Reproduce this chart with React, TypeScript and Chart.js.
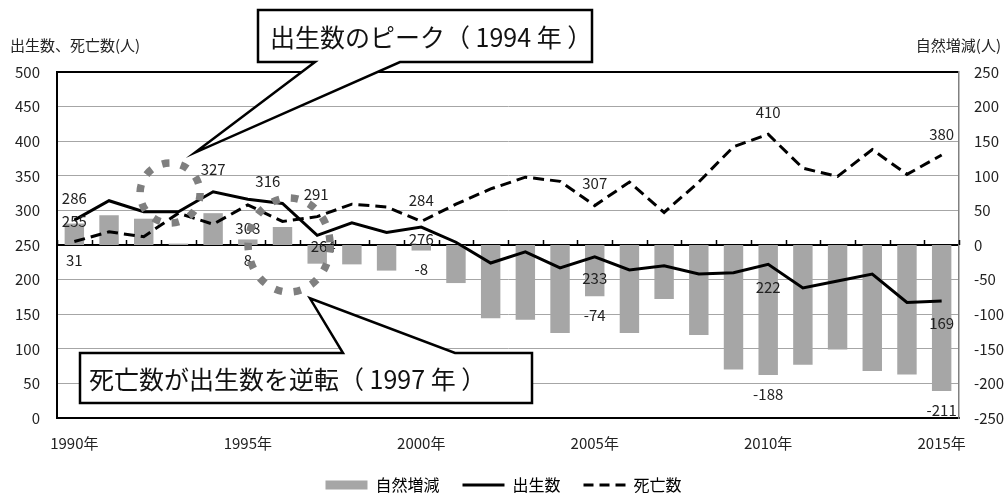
import React, { useEffect, useRef } from 'react';
import { Chart, registerables } from 'chart.js';

Chart.register(...registerables);

// ---- data ----
const YEARS = [1990, 1991, 1992, 1993, 1994, 1995, 1996, 1997, 1998, 1999, 2000, 2001, 2002, 2003, 2004, 2005, 2006, 2007, 2008, 2009, 2010, 2011, 2012, 2013, 2014, 2015];
const TICK_YEARS = [1990, 1995, 2000, 2005, 2010, 2015];
const BIRTHS = [286, 314, 298, 298, 327, 316, 310, 264, 282, 268, 276, 254, 224, 240, 217, 233, 214, 220, 208, 210, 222, 188, 198, 208, 167, 169];
const DEATHS = [255, 269, 262, 296, 280, 308, 284, 291, 309, 305, 284, 309, 331, 348, 342, 307, 341, 297, 341, 392, 410, 361, 349, 388, 352, 380];
const NATURAL = [31, 43, 38, 2, 46, 8, 26, -27, -28, -37, -8, -55, -106, -108, -127, -74, -127, -78, -130, -180, -188, -173, -151, -182, -187, -211];

const SERIES_NAMES = ['自然増減', '出生数', '死亡数'];
const LEFT_TITLE = '出生数、死亡数(人)';
const RIGHT_TITLE = '自然増減(人)';
const CALLOUT_PEAK = '出生数のピーク（ 1994 年 ）';
const CALLOUT_CROSS = '死亡数が出生数を逆転（ 1997 年 ）';

// which points carry a value label (index, pixel nudge)
const BIRTH_LABELS = [[0, 0, -22], [4, 0, -22], [5, 20, -18], [7, 6, 11], [10, 0, 12], [15, 0, 22], [20, 0, 23], [25, 0, 22]];
const DEATH_LABELS = [[0, 0, -20], [5, 0, 23], [7, -1, -22], [10, 0, -21], [15, 0, -22], [20, 0, -22], [25, 0, -21]];
const NATURAL_LABELS = [0, 5, 10, 15, 20, 25];

const FONT = "'Noto Sans CJK JP', 'Noto Sans', sans-serif";
const GRAY_BAR = '#a6a6a6';

const annotPlugin = {
  id: 'annot',
  afterDatasetsDraw(chart: any) {
    const { ctx, scales } = chart;
    const x = scales.x, yL = scales.y, yR = scales.yR;
    ctx.save();
    // small tick marks on the zero line at category boundaries
    const zy = yR.getPixelForValue(0);
    ctx.strokeStyle = '#000';
    ctx.lineWidth = 1.5;
    for (let i = 0; i <= YEARS.length; i++) {
      const px = Math.round(x.getPixelForValue(i - 0.5)) + 0.5;
      ctx.beginPath();
      ctx.moveTo(px, zy - 5);
      ctx.lineTo(px, zy);
      ctx.stroke();
    }
    // value labels
    ctx.font = `15px ${FONT}`;
    ctx.fillStyle = '#222';
    ctx.textAlign = 'center';
    ctx.textBaseline = 'middle';
    for (const [i, dx, dy] of BIRTH_LABELS) {
      ctx.fillText(String(BIRTHS[i]), x.getPixelForValue(i) + dx, yL.getPixelForValue(BIRTHS[i]) + dy);
    }
    for (const [i, dx, dy] of DEATH_LABELS) {
      ctx.fillText(String(DEATHS[i]), x.getPixelForValue(i) + dx, yL.getPixelForValue(DEATHS[i]) + dy);
    }
    for (const i of NATURAL_LABELS) {
      const v = NATURAL[i];
      const py = v < 0 ? yR.getPixelForValue(v) + 19 : zy + 15;
      ctx.fillText(String(v), x.getPixelForValue(i), py);
    }
    // dotted circles
    ctx.strokeStyle = '#7f7f7f';
    ctx.lineWidth = 7.5;
    ctx.setLineDash([7.5, 11.5]);
    ctx.beginPath();
    ctx.ellipse(x.getPixelForValue(2.76), yL.getPixelForValue(325), 30, 30, 0, 0, Math.PI * 2);
    ctx.stroke();
    ctx.beginPath();
    ctx.ellipse(x.getPixelForValue(6.19), yL.getPixelForValue(250), 41, 47, 0, 0, Math.PI * 2);
    ctx.stroke();
    ctx.restore();
  },
  afterDraw(chart: any) {
    const { ctx, scales } = chart;
    const x = scales.x, yL = scales.y;
    ctx.save();
    // axis titles
    ctx.font = `15px ${FONT}`;
    ctx.fillStyle = '#222';
    ctx.textBaseline = 'middle';
    ctx.textAlign = 'left';
    ctx.fillText(LEFT_TITLE, 10, 45);
    ctx.textAlign = 'right';
    ctx.fillText(RIGHT_TITLE, 1001, 45);

    const callout = (pts: number[][], text: string, tx: number, ty: number) => {
      ctx.beginPath();
      pts.forEach((p, i) => (i ? ctx.lineTo(p[0], p[1]) : ctx.moveTo(p[0], p[1])));
      ctx.closePath();
      ctx.fillStyle = '#fff';
      ctx.fill();
      ctx.lineWidth = 2.5;
      ctx.strokeStyle = '#000';
      ctx.lineJoin = 'miter';
      ctx.setLineDash([]);
      ctx.stroke();
      ctx.fillStyle = '#111';
      ctx.font = `25px ${FONT}`;
      ctx.textAlign = 'left';
      ctx.textBaseline = 'middle';
      ctx.fillText(text, tx, ty);
    };
    const t1x = x.getPixelForValue(3.48), t1y = yL.getPixelForValue(383.5);
    callout([[258, 10], [592, 10], [592, 62], [400, 62], [t1x, t1y], [315, 62], [258, 62]], CALLOUT_PEAK, 270, 37);
    const t2x = x.getPixelForValue(6.79), t2y = yL.getPixelForValue(173);
    callout([[80, 353], [343, 353], [t2x, t2y], [455, 353], [532, 353], [532, 403], [80, 403]], CALLOUT_CROSS, 89, 379);
    ctx.restore();
  },
};

export default function App() {
  const ref = useRef<HTMLCanvasElement>(null);
  useEffect(() => {
    if (!ref.current) return;
    Chart.defaults.font.family = FONT;
    const chart = new Chart(ref.current, {
      type: 'bar',
      data: {
        labels: YEARS.map(String),
        datasets: [
          {
            type: 'bar',
            label: SERIES_NAMES[0],
            data: NATURAL,
            yAxisID: 'yR',
            backgroundColor: GRAY_BAR,
            barPercentage: 0.56,
            categoryPercentage: 1,
            order: 3,
          } as any,
          {
            type: 'line',
            label: SERIES_NAMES[1],
            data: BIRTHS,
            yAxisID: 'y',
            borderColor: '#000',
            borderWidth: 3,
            pointRadius: 0,
            tension: 0,
            order: 1,
          },
          {
            type: 'line',
            label: SERIES_NAMES[2],
            data: DEATHS,
            yAxisID: 'y',
            borderColor: '#000',
            borderWidth: 3,
            borderDash: [11, 6],
            pointRadius: 0,
            tension: 0,
            order: 2,
          },
        ],
      },
      options: {
        responsive: false,
        animation: false,
        layout: { padding: { top: 72, left: 0, right: 0, bottom: 0 } },
        plugins: {
          tooltip: { enabled: false },
          legend: {
            position: 'bottom',
            maxHeight: 39,
            labels: {
              usePointStyle: true,
              pointStyleWidth: 42,
              boxHeight: 9,
              padding: 23,
              color: '#222',
              font: { size: 16, family: FONT },
              generateLabels: () => [
                { text: SERIES_NAMES[0], pointStyle: 'rect', fillStyle: GRAY_BAR, strokeStyle: GRAY_BAR, lineWidth: 0, datasetIndex: 0, hidden: false },
                { text: SERIES_NAMES[1], pointStyle: 'line', fillStyle: '#000', strokeStyle: '#000', lineWidth: 3, lineDash: [], datasetIndex: 1, hidden: false },
                { text: SERIES_NAMES[2], pointStyle: 'line', fillStyle: '#000', strokeStyle: '#000', lineWidth: 3, lineDash: [10, 6], datasetIndex: 2, hidden: false },
              ] as any,
            },
          },
        },
        scales: {
          x: {
            type: 'category',
            offset: true,
            grid: { display: false, drawTicks: false },
            border: { display: true, color: '#000', width: 2 },
            ticks: {
              autoSkip: false,
              maxRotation: 0,
              padding: 16,
              color: '#222',
              font: { size: 15, family: FONT },
              callback: (_v: any, i: number) => (TICK_YEARS.includes(YEARS[i]) ? `${YEARS[i]}年` : ''),
            },
            afterFit: (s: any) => { s.height = 36; },
          },
          y: {
            position: 'left',
            min: 0,
            max: 500,
            ticks: { stepSize: 50, padding: 17, color: '#222', font: { size: 15, family: FONT } },
            grid: {
              drawTicks: false,
              color: (c: any) => (c.tick && (c.tick.value === 250 || c.tick.value === 500) ? '#000' : '#a6a6a6'),
              lineWidth: (c: any) => (c.tick && (c.tick.value === 250 || c.tick.value === 500) ? 2 : 1),
            },
            border: { display: true, color: '#000', width: 2 },
            afterFit: (s: any) => { s.width = 57; },
          },
          yR: {
            position: 'right',
            min: -250,
            max: 250,
            ticks: { stepSize: 50, padding: 15, color: '#222', font: { size: 15, family: FONT } },
            grid: { display: false, drawTicks: false },
            border: { display: true, color: '#808080', width: 1.5 },
            afterFit: (s: any) => { s.width = 48; },
          },
        },
      },
      plugins: [annotPlugin],
    });
    return () => chart.destroy();
  }, []);

  return (
    <div style={{ position: 'absolute', left: 0, top: 0, width: 1007, height: 493, background: '#fff' }}>
      <canvas ref={ref} width={1007} height={493} />
    </div>
  );
}
